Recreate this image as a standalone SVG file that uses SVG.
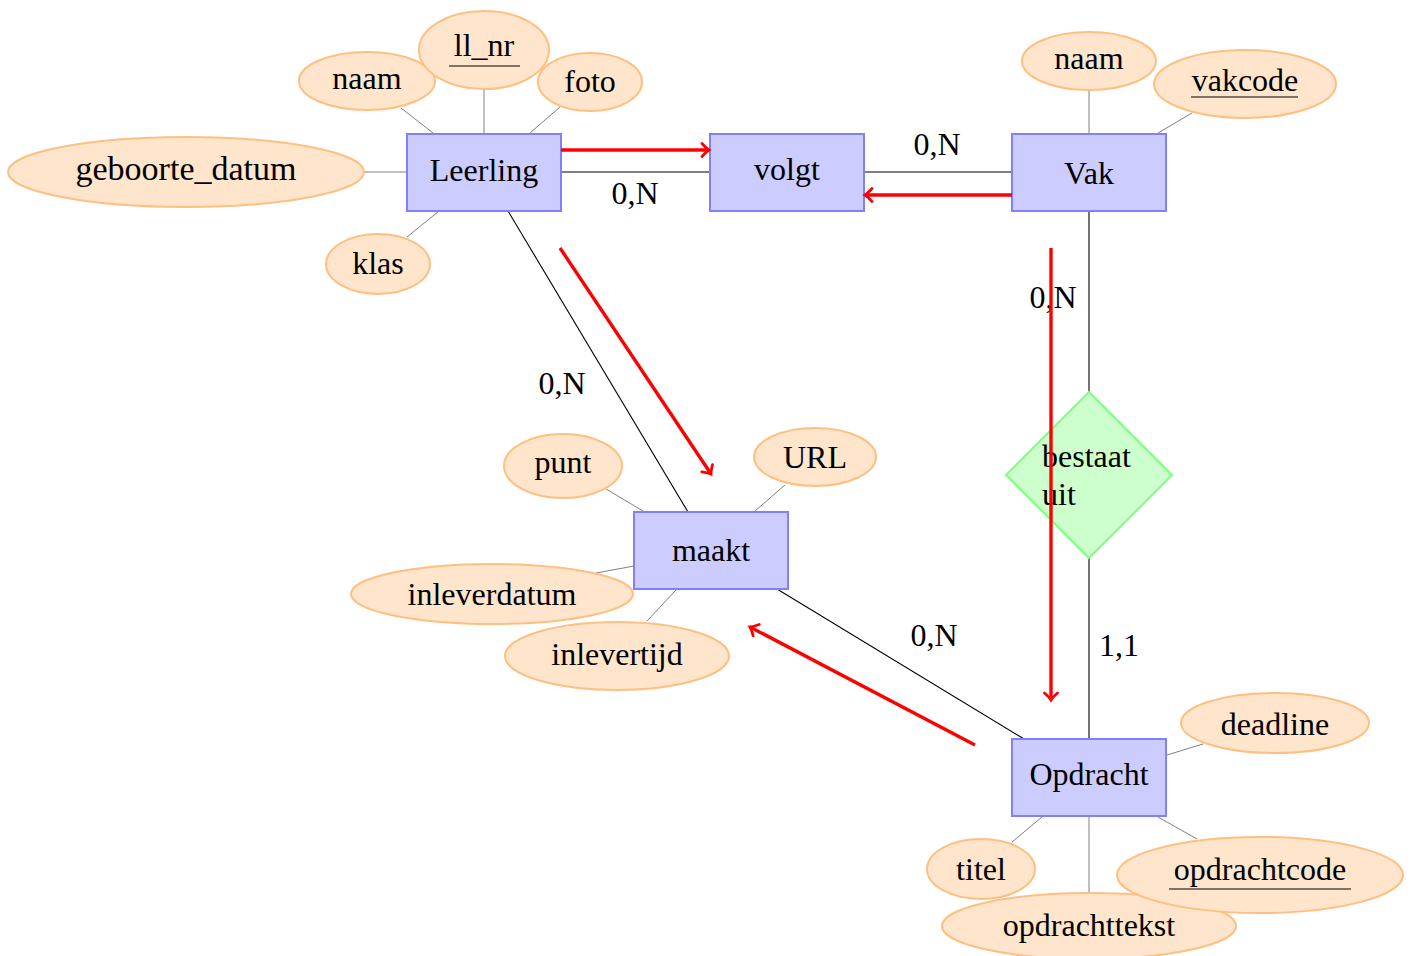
<svg xmlns="http://www.w3.org/2000/svg" width="1416" height="956" viewBox="0 0 1416 956">
  <style>
    text { font-family: "Liberation Serif", "DejaVu Serif", serif; font-size: 32px; fill: #000; text-anchor: middle; }
    .entity { fill: #ccccff; stroke: #8080ff; stroke-width: 2; }
    .attr { fill: #ffe5cc; stroke: #ffbf80; stroke-width: 2; }
    .rel { fill: #ccffcc; stroke: #80ff80; stroke-width: 2; }
    .aline { stroke: #808080; stroke-width: 1; fill: none; }
    .link { stroke: #000; stroke-width: 1.1; fill: none; }
    .flow { stroke: #ff0000; stroke-width: 3.4; fill: none; marker-end: url(#tip); }
    .key { stroke: #000; stroke-width: 1.2; }
    .card { text-anchor: middle; }
  </style>
  <defs>
    <marker id="tip" viewBox="-8 -8 12 16" markerWidth="12" markerHeight="16" refX="1" refY="0" orient="auto" markerUnits="userSpaceOnUse">
      <path d="M -6 -6.5 Q -1.5 -1.5 1 0 Q -1.5 1.5 -6 6.5" fill="none" stroke="#ff0000" stroke-width="2.8" stroke-linecap="round"/>
    </marker>
  </defs>
  <rect width="1416" height="956" fill="#ffffff"/>

  <!-- attribute lines -->
  <g id="attribute-lines">
    <line class="aline" x1="401" y1="108" x2="433" y2="133"/>
    <line class="aline" x1="484" y1="90" x2="484" y2="133"/>
    <line class="aline" x1="560" y1="107" x2="530" y2="133"/>
    <line class="aline" x1="364" y1="172" x2="407" y2="172"/>
    <line class="aline" x1="407" y1="237" x2="439" y2="211"/>
    <line class="aline" x1="1089" y1="91" x2="1089" y2="133"/>
    <line class="aline" x1="1192" y1="113" x2="1158" y2="133"/>
    <line class="aline" x1="606" y1="489" x2="643" y2="511"/>
    <line class="aline" x1="785" y1="485" x2="755" y2="511"/>
    <line class="aline" x1="596" y1="573" x2="634" y2="566"/>
    <line class="aline" x1="647" y1="621" x2="676" y2="590"/>
    <line class="aline" x1="1203" y1="744" x2="1167" y2="755"/>
    <line class="aline" x1="1012" y1="842" x2="1042" y2="817"/>
    <line class="aline" x1="1089" y1="817" x2="1089" y2="892"/>
    <line class="aline" x1="1197" y1="839" x2="1158" y2="817"/>
  </g>

  <!-- relationship connectors and cardinalities -->
  <g id="connectors">
    <line class="link" x1="561" y1="172" x2="710" y2="172"/>
    <line class="link" x1="864" y1="172" x2="1012" y2="172"/>
    <line class="link" x1="508" y1="211" x2="688" y2="512"/>
    <line class="link" x1="777" y1="589" x2="1024" y2="739"/>
    <line class="link" x1="1089" y1="211" x2="1089" y2="392"/>
    <line class="link" x1="1089" y1="558" x2="1089" y2="739"/>
    <text class="card" x="635" y="204">0,N</text>
    <text class="card" x="937" y="155">0,N</text>
    <text class="card" x="1053" y="308">0,N</text>
    <text class="card" x="562" y="394">0,N</text>
    <text class="card" x="934" y="646">0,N</text>
    <text class="card" x="1119" y="656">1,1</text>
  </g>

  <!-- Leerling and its attributes -->
  <g id="leerling">
    <rect class="entity" x="407" y="134" width="154" height="77"/>
    <text x="484" y="181">Leerling</text>
  </g>
  <g id="leerling-naam">
    <ellipse class="attr" cx="367" cy="81" rx="68" ry="29"/>
    <text x="367" y="89">naam</text>
  </g>
  <g id="leerling-ll_nr">
    <ellipse class="attr" cx="484" cy="50" rx="65" ry="39"/>
    <text x="484" y="56">ll_nr</text>
    <line class="key" x1="449" y1="66" x2="520" y2="66"/>
  </g>
  <g id="leerling-foto">
    <ellipse class="attr" cx="590" cy="82" rx="52" ry="29"/>
    <text x="590" y="92">foto</text>
  </g>
  <g id="leerling-geboorte_datum">
    <ellipse class="attr" cx="186" cy="172" rx="178" ry="35"/>
    <text x="186" y="180" style="font-size:34px">geboorte_datum</text>
  </g>
  <g id="leerling-klas">
    <ellipse class="attr" cx="378" cy="264" rx="52" ry="30"/>
    <text x="378" y="274">klas</text>
  </g>

  <!-- volgt -->
  <g id="volgt">
    <rect class="entity" x="710" y="134" width="154" height="77"/>
    <text x="787" y="180">volgt</text>
  </g>

  <!-- Vak and its attributes -->
  <g id="vak">
    <rect class="entity" x="1012" y="134" width="154" height="77"/>
    <text x="1089" y="184">Vak</text>
  </g>
  <g id="vak-naam">
    <ellipse class="attr" cx="1089" cy="61" rx="67" ry="29"/>
    <text x="1089" y="69">naam</text>
  </g>
  <g id="vak-vakcode">
    <ellipse class="attr" cx="1245" cy="84" rx="91" ry="34"/>
    <text x="1245" y="91">vakcode</text>
    <line class="key" x1="1191" y1="97" x2="1298" y2="97"/>
  </g>

  <!-- bestaat uit -->
  <g id="bestaat-uit">
    <polygon class="rel" points="1089,392 1172,475 1089,558 1006,475"/>
    <text x="1042" y="467" style="text-anchor:start">bestaat</text>
    <text x="1042" y="505" style="text-anchor:start">uit</text>
  </g>

  <!-- maakt and its attributes -->
  <g id="maakt">
    <rect class="entity" x="634" y="512" width="154" height="77"/>
    <text x="711" y="561">maakt</text>
  </g>
  <g id="maakt-punt">
    <ellipse class="attr" cx="563" cy="466" rx="59" ry="32"/>
    <text x="563" y="473">punt</text>
  </g>
  <g id="maakt-url">
    <ellipse class="attr" cx="815" cy="457" rx="61" ry="29"/>
    <text x="815" y="468">URL</text>
  </g>
  <g id="maakt-inleverdatum">
    <ellipse class="attr" cx="492" cy="594" rx="141" ry="30"/>
    <text x="492" y="605">inleverdatum</text>
  </g>
  <g id="maakt-inlevertijd">
    <ellipse class="attr" cx="617" cy="656" rx="112" ry="34"/>
    <text x="617" y="665">inlevertijd</text>
  </g>

  <!-- Opdracht and its attributes -->
  <g id="opdracht">
    <rect class="entity" x="1012" y="739" width="154" height="77"/>
    <text x="1089" y="785">Opdracht</text>
  </g>
  <g id="opdracht-deadline">
    <ellipse class="attr" cx="1275" cy="723" rx="94" ry="30"/>
    <text x="1275" y="735">deadline</text>
  </g>
  <g id="opdracht-titel">
    <ellipse class="attr" cx="981" cy="869" rx="54" ry="30"/>
    <text x="981" y="880">titel</text>
  </g>
  <g id="opdracht-opdrachttekst">
    <ellipse class="attr" cx="1089" cy="926" rx="147" ry="33"/>
    <text x="1089" y="936">opdrachttekst</text>
  </g>
  <g id="opdracht-opdrachtcode">
    <ellipse class="attr" cx="1260" cy="875" rx="143" ry="38"/>
    <text x="1260" y="880">opdrachtcode</text>
    <line class="key" x1="1169" y1="889" x2="1351" y2="889"/>
  </g>

  <!-- red flow arrows -->
  <g id="flow-arrows">
    <line class="flow" x1="561" y1="150" x2="709" y2="150"/>
    <line class="flow" x1="1012" y1="195" x2="865" y2="195"/>
    <line class="flow" x1="560" y1="248" x2="711" y2="474"/>
    <line class="flow" x1="1051" y1="248" x2="1051" y2="700"/>
    <line class="flow" x1="975" y1="745" x2="750" y2="627"/>
  </g>
</svg>
